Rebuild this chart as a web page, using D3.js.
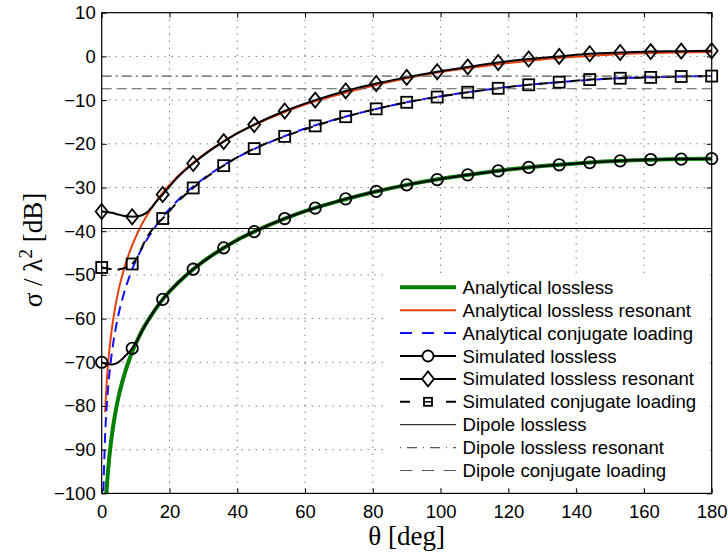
<!DOCTYPE html>
<html><head><meta charset="utf-8">
<script src="https://cdn.jsdelivr.net/npm/d3@7"></script>
<style>body{margin:0;background:#fff;} svg{display:block;}</style>
</head><body><svg id="chart" width="728" height="553"></svg>
<script>
// ---- data ----
const xTicks = [0,20,40,60,80,100,120,140,160,180];
const yTicks = [-100,-90,-80,-70,-60,-50,-40,-30,-20,-10,0,10];

const thetaAna = [0.5,1,1.5,2,3,4,5,6,7,8,9,10,12,14,16,18,20,25,30,35,40,45,50,60,70,80,90,100,110,120,130,140,150,160,170,180];
const anaLossless = [-117.8,-105.8,-98.7,-93.7,-86.7,-81.7,-77.8,-74.7,-72.0,-69.7,-67.6,-65.8,-62.6,-60.0,-57.7,-55.6,-53.8,-50.0,-46.9,-44.3,-42.0,-40.1,-38.4,-35.4,-33.1,-31.1,-29.4,-28.0,-26.9,-25.9,-25.1,-24.5,-24.0,-23.7,-23.5,-23.4];
const anaResonant = [null,-81.4,-74.3,-69.3,-62.3,-57.3,-53.4,-50.3,-47.6,-45.3,-43.2,-41.4,-38.2,-35.6,-33.3,-31.2,-29.4,-25.6,-22.5,-19.9,-17.6,-15.7,-14.0,-11.0,-8.7,-6.7,-5.0,-3.6,-2.5,-1.5,-0.7,-0.1,0.4,0.7,0.9,1.0];
const anaConjugate = [-99.5,-86.9,-79.8,-74.8,-67.8,-62.8,-58.9,-55.8,-53.1,-50.8,-48.7,-46.9,-43.7,-41.1,-38.8,-36.7,-34.9,-31.1,-28.0,-25.4,-23.1,-21.2,-19.5,-16.5,-14.2,-12.2,-10.5,-9.1,-8.0,-7.0,-6.2,-5.6,-5.1,-4.8,-4.6,-4.5];

const thetaSim = [0,1.5,3,4.5,6,7.5,9,10.5,12,13.5,15,16.5,18,22.5,27,31.5,36,40.5,45,54,63,72,81,90,99,108,117,126,135,144,153,162,171,180];
const simLossless = [-70.0,-70.4,-70.5,-70.2,-69.3,-68.1,-66.8,-65.0,-62.7,-60.7,-58.8,-57.1,-55.6,-51.8,-48.7,-46.1,-43.8,-41.8,-40.1,-37.1,-34.7,-32.6,-30.9,-29.4,-28.2,-27.1,-26.2,-25.4,-24.8,-24.3,-23.9,-23.6,-23.5,-23.4];
const simResonant = [-35.5,-35.6,-35.8,-36.1,-36.4,-36.6,-36.7,-36.6,-36.3,-35.6,-34.3,-32.9,-31.6,-27.6,-24.5,-21.8,-19.5,-17.4,-15.6,-12.5,-10.0,-7.9,-6.2,-4.8,-3.5,-2.4,-1.4,-0.6,0.0,0.6,0.9,1.1,1.2,1.3];
const simConjugate = [-48.3,-48.5,-48.7,-48.8,-48.6,-48.2,-47.5,-46.0,-43.5,-41.2,-39.5,-38.2,-37.1,-33.2,-30.1,-27.3,-25.0,-22.9,-21.1,-18.3,-15.9,-13.8,-12.0,-10.5,-9.3,-8.2,-7.3,-6.5,-5.9,-5.3,-5.0,-4.8,-4.6,-4.5];
const markerStep = 9;

const dipoleLossless = -39.3;
const dipoleResonant = -4.5;
const dipoleConjugate = -7.4;

const legendLabels = ["Analytical lossless","Analytical lossless resonant","Analytical conjugate loading",
  "Simulated lossless","Simulated lossless resonant","Simulated conjugate loading",
  "Dipole lossless","Dipole lossless resonant","Dipole conjugate loading"];

// ---- layout ----
const W = 728, H = 553;
const m = {left: 101.7, right: 16.3, top: 12.7, bottom: 59.6};
const svg = d3.select("#chart");
const x = d3.scaleLinear().domain([0,180]).range([m.left, W - m.right]);
const y = d3.scaleLinear().domain([-100,10]).range([H - m.bottom, m.top]);

svg.append("defs").append("clipPath").attr("id","clip")
  .append("rect").attr("x", m.left).attr("y", m.top)
  .attr("width", x(180)-x(0)).attr("height", y(-100)-y(10));

// grid
const grid = svg.append("g").attr("stroke","#444").attr("stroke-width",1).attr("stroke-dasharray","1,6");
grid.selectAll("line.gx").data(xTicks.slice(1,-1)).join("line")
  .attr("x1", d=>x(d)).attr("x2", d=>x(d)).attr("y1", y(10)).attr("y2", y(-100));
grid.selectAll("line.gy").data(yTicks.slice(1,-1)).join("line")
  .attr("y1", d=>y(d)).attr("y2", d=>y(d)).attr("x1", x(0)).attr("x2", x(180));

const plot = svg.append("g").attr("clip-path","url(#clip)");

function lineGen(){
  return d3.line().defined(d=>d[1]!==null)
    .x(d=>x(d[0])).y(d=>y(d[1])).curve(d3.curveMonotoneX);
}
function zipData(t, v){ return t.map((th,i)=>[th, v[i]]); }

// analytical
plot.append("path").datum(zipData(thetaAna, anaLossless)).attr("d", lineGen())
  .attr("fill","none").attr("stroke","#008000").attr("stroke-width",4);
plot.append("path").datum(zipData(thetaAna, anaResonant)).attr("d", lineGen())
  .attr("fill","none").attr("stroke","#e8400c").attr("stroke-width",2);
plot.append("path").datum(zipData(thetaAna, anaConjugate)).attr("d", lineGen())
  .attr("fill","none").attr("stroke","#1010ff").attr("stroke-width",2).attr("stroke-dasharray","10,6");

// simulated
plot.append("path").datum(zipData(thetaSim, simLossless)).attr("d", lineGen())
  .attr("fill","none").attr("stroke","#000").attr("stroke-width",2);
plot.append("path").datum(zipData(thetaSim, simResonant)).attr("d", lineGen())
  .attr("fill","none").attr("stroke","#000").attr("stroke-width",2);
plot.append("path").datum(zipData(thetaSim, simConjugate)).attr("d", lineGen())
  .attr("fill","none").attr("stroke","#000").attr("stroke-width",2).attr("stroke-dasharray","10,6");

// markers
const isMarker = d => Math.abs(d[0] % markerStep) < 1e-9;
const markers = svg.append("g").attr("fill","none").attr("stroke","#000").attr("stroke-width",1.8);
markers.selectAll("circle").data(zipData(thetaSim, simLossless).filter(isMarker)).join("circle")
  .attr("cx", d=>x(d[0])).attr("cy", d=>y(d[1])).attr("r", 5.7);
const diamond = (cx,cy,w,h)=>`M${cx},${cy-h}L${cx+w},${cy}L${cx},${cy+h}L${cx-w},${cy}Z`;
markers.selectAll("path.dia").data(zipData(thetaSim, simResonant).filter(isMarker)).join("path")
  .attr("class","dia").attr("d", d=>diamond(x(d[0]), y(d[1]), 6, 7.5));
markers.selectAll("rect.sq").data(zipData(thetaSim, simConjugate).filter(isMarker)).join("rect")
  .attr("class","sq").attr("x", d=>x(d[0])-5.5).attr("y", d=>y(d[1])-5.5).attr("width",11).attr("height",11);

// dipole lines
const snap = v => Math.round(v) + 0.5;
plot.append("line").attr("x1",x(0)).attr("x2",x(180)).attr("y1",snap(y(dipoleLossless))).attr("y2",snap(y(dipoleLossless)))
  .attr("stroke","#000").attr("stroke-width",1);
plot.append("line").attr("x1",x(0)).attr("x2",x(180)).attr("y1",y(dipoleResonant)).attr("y2",y(dipoleResonant))
  .attr("stroke","#555").attr("stroke-width",1.2).attr("stroke-dasharray","10,4,2,4");
plot.append("line").attr("x1",x(0)).attr("x2",x(180)).attr("y1",y(dipoleConjugate)).attr("y2",y(dipoleConjugate))
  .attr("stroke","#555").attr("stroke-width",1.2).attr("stroke-dasharray","10,5");

// axes
const fmt = d => (d<0 ? "\u2212"+Math.abs(d) : ""+d);
const axFont = "'Liberation Sans', Arial, Helvetica, sans-serif";
const gx = svg.append("g").attr("transform",`translate(0,${y(-100)})`)
  .call(d3.axisBottom(x).tickValues(xTicks).tickFormat(fmt).tickSizeInner(-5).tickSizeOuter(0).tickPadding(11.5));
const gy = svg.append("g").attr("transform",`translate(${x(0)},0)`)
  .call(d3.axisLeft(y).tickValues(yTicks).tickFormat(fmt).tickSizeInner(-5).tickSizeOuter(0).tickPadding(6));
const gt = svg.append("g").attr("transform",`translate(0,${y(10)})`)
  .call(d3.axisTop(x).tickValues(xTicks).tickFormat("").tickSizeInner(-5).tickSizeOuter(0));
const gr = svg.append("g").attr("transform",`translate(${x(180)},0)`)
  .call(d3.axisRight(y).tickValues(yTicks).tickFormat("").tickSizeInner(-5).tickSizeOuter(0));
[gx,gy,gt,gr].forEach(g=>{
  g.selectAll(".domain").remove();
  g.selectAll("line").attr("stroke","#000");
  g.selectAll("text").attr("font-family", axFont).attr("font-size", 18.5).attr("fill","#000");
});
svg.append("rect").attr("x",x(0)).attr("y",y(10)).attr("width",x(180)-x(0)).attr("height",y(-100)-y(10))
  .attr("fill","none").attr("stroke","#000").attr("stroke-width",1.2);

// legend
const lg = svg.append("g");
lg.append("rect").attr("x",384).attr("y",274).attr("width",x(180)-384-1).attr("height",210).attr("fill","#fff");
const ly0 = 287.3, ldy = 22.9, lx1 = 400, lx2 = 456, ltx = 462.5;
const styles = [
  {stroke:"#008000", w:4},
  {stroke:"#e8400c", w:2},
  {stroke:"#1010ff", w:2, dash:"12,10"},
  {stroke:"#000", w:2, mk:"circle"},
  {stroke:"#000", w:2, mk:"diamond"},
  {stroke:"#000", w:2, dash:"10,36,10", mk:"square"},
  {stroke:"#000", w:1},
  {stroke:"#555", w:1.2, dash:"1,6,10,6"},
  {stroke:"#555", w:1.2, dash:"12,10"}
];
legendLabels.forEach((lab,i)=>{
  const yy = ly0 + i*ldy, s = styles[i];
  lg.append("line").attr("x1",lx1).attr("x2",lx2).attr("y1",yy).attr("y2",yy)
    .attr("stroke",s.stroke).attr("stroke-width",s.w).attr("stroke-dasharray",s.dash||null);
  const cx = (lx1+lx2)/2;
  if(s.mk==="circle") lg.append("circle").attr("cx",cx).attr("cy",yy).attr("r",5.5).attr("fill","#fff").attr("stroke","#000").attr("stroke-width",1.8);
  if(s.mk==="diamond") lg.append("path").attr("d",diamond(cx,yy,6,7.5)).attr("fill","#fff").attr("stroke","#000").attr("stroke-width",1.8);
  if(s.mk==="square") {
    lg.append("rect").attr("x",cx-4).attr("y",yy-4).attr("width",8).attr("height",8).attr("fill","#fff").attr("stroke","#000").attr("stroke-width",1.8);
    lg.append("line").attr("x1",cx-4).attr("x2",cx+4).attr("y1",yy).attr("y2",yy).attr("stroke","#000").attr("stroke-width",1.5);
  }
  lg.append("text").attr("x",ltx).attr("y",yy).attr("dy","0.35em").text(lab)
    .attr("font-family",axFont).attr("font-size",18.6).attr("fill","#000");
});

// axis labels
const serif = "'Liberation Serif', 'Times New Roman', serif";
svg.append("text").attr("x",(x(0)+x(180))/2).attr("y",545).attr("text-anchor","middle")
  .attr("font-family",serif).attr("font-size",27).text("\u03b8 [deg]");
const yl = svg.append("text").attr("transform",`translate(42,${(y(10)+y(-100))/2 - 3}) rotate(-90)`)
  .attr("text-anchor","middle").attr("font-family",serif).attr("font-size",27);
yl.append("tspan").text("\u03c3 / \u03bb");
yl.append("tspan").attr("dy",-10).attr("font-size",19).text("2");
yl.append("tspan").attr("dy",10).text(" [dB]");
</script></body></html>
